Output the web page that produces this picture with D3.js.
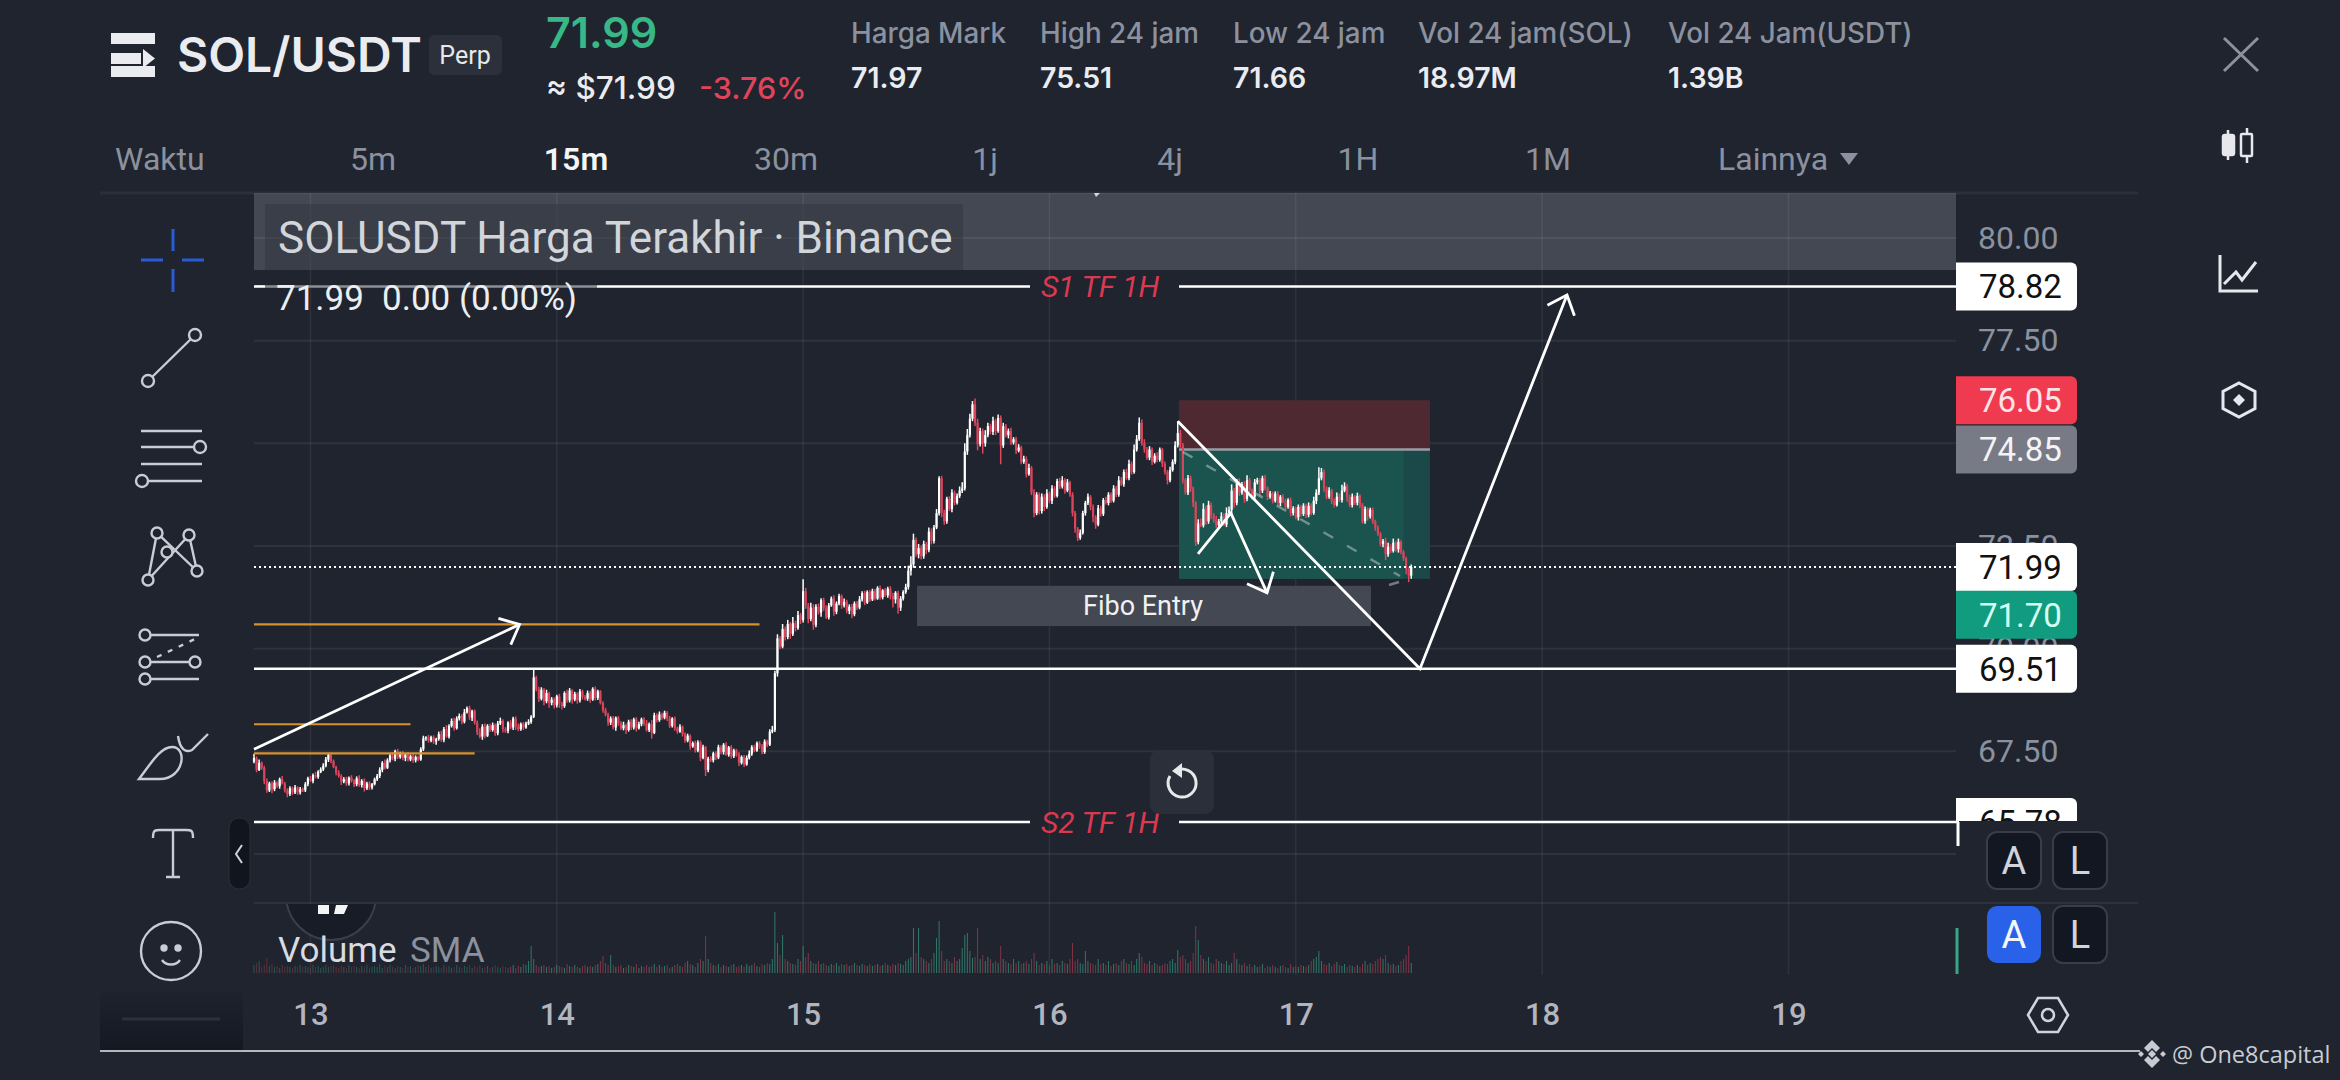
<!DOCTYPE html>
<html>
<head>
<meta charset="utf-8">
<script src="https://d3js.org/d3.v7.min.js"></script>
<style>
  html, body { margin: 0; padding: 0; background: #1f242f; overflow: hidden; }
  text { font-family: Roboto, sans-serif; }
  .hd { font-family: Inter, sans-serif; }
</style>
</head>
<body>
<script>
// 15m closes
var closes = [
 67.34,67.05,67.22,67.10,66.78,66.55,66.72,66.58,66.74,66.65,
 66.82,66.72,66.55,66.46,66.60,66.50,66.62,66.50,66.58,66.55,
 66.70,66.84,66.78,66.92,66.88,67.00,67.06,67.15,67.30,67.42,
 67.26,67.12,66.98,66.90,66.76,66.82,66.72,66.86,66.78,66.70,
 66.84,66.68,66.78,66.60,66.72,66.62,66.70,66.82,66.90,67.05,
 67.22,67.10,67.28,67.40,67.32,67.50,67.36,67.44,67.34,67.42,
 67.30,67.38,67.28,67.36,67.30,67.55,67.82,67.84,67.76,67.84,
 67.74,67.80,67.92,67.78,68.04,67.86,68.12,68.24,68.06,68.30,
 68.36,68.22,68.45,68.55,68.32,68.48,68.20,67.96,67.86,68.10,
 67.88,68.12,68.02,68.14,67.94,68.18,68.24,68.04,68.00,68.20,
 68.08,68.30,68.10,68.04,68.16,68.08,68.18,68.22,68.34,69.30,
 69.02,68.78,69.00,68.72,68.92,68.68,68.76,68.62,68.84,68.66,
 68.60,68.92,68.74,68.98,68.76,68.90,68.74,68.96,68.82,68.78,
 68.92,68.76,69.02,68.80,68.96,68.68,68.50,68.40,68.20,68.30,
 68.08,68.32,68.18,68.06,68.14,68.02,68.22,68.08,68.28,68.06,
 68.16,68.28,68.18,68.02,68.16,67.95,68.38,68.26,68.40,68.32,
 68.44,68.30,68.12,68.30,68.06,67.98,68.10,67.92,67.76,67.88,
 67.62,67.70,67.52,67.72,67.34,67.60,67.05,67.32,67.28,67.45,
 67.35,67.60,67.48,67.66,67.42,67.60,67.38,67.52,67.42,67.22,
 67.36,67.18,67.34,67.44,67.60,67.52,67.70,67.62,67.48,67.74,
 67.66,67.98,68.02,69.40,70.25,70.05,70.48,70.28,70.60,70.36,
 70.62,70.50,70.82,70.70,71.40,71.05,70.72,71.00,70.58,71.02,
 70.88,71.18,70.98,70.76,71.05,71.22,70.90,71.10,71.28,71.05,
 71.14,70.92,71.02,70.84,71.10,71.00,71.20,71.35,71.12,71.38,
 71.20,71.40,71.22,71.48,71.25,71.42,71.30,71.46,71.28,71.20,
 71.36,71.00,71.22,71.38,71.50,71.90,72.05,72.65,72.30,72.45,
 72.25,72.55,72.40,72.85,72.62,72.95,73.30,74.15,73.30,73.10,
 73.65,73.40,73.80,73.55,73.72,73.85,73.90,74.80,75.20,75.60,
 75.95,75.50,74.98,75.30,75.00,75.20,75.42,75.28,75.55,75.30,
 75.62,74.95,75.42,75.20,75.30,75.02,75.10,74.82,74.90,74.55,
 74.62,74.25,74.40,73.80,73.30,73.75,73.35,73.70,73.45,73.78,
 73.60,73.90,73.72,74.08,73.95,74.10,73.85,74.05,73.75,73.30,
 72.92,72.70,72.82,73.30,73.55,73.70,73.45,73.20,73.02,73.42,
 73.28,73.62,73.55,73.75,73.60,73.90,73.75,74.10,74.00,74.30,
 74.15,74.50,74.30,74.85,75.10,75.50,75.00,74.85,74.65,74.85,
 74.55,74.70,74.60,74.85,74.50,74.30,74.10,74.35,74.55,74.95,
 75.25,74.95,74.10,73.80,74.15,73.90,73.55,72.60,73.05,73.00,
 73.40,73.10,73.50,73.25,73.15,73.00,73.10,73.22,73.02,73.30,
 73.38,73.85,73.55,74.05,73.80,74.00,73.65,74.10,73.85,73.70,
 74.05,74.10,73.85,74.15,73.90,73.70,73.78,73.60,73.78,73.55,
 73.70,73.60,73.45,73.62,73.30,73.42,73.20,73.45,73.28,73.48,
 73.26,73.48,73.30,73.60,73.80,74.15,74.30,73.90,73.70,73.85,
 73.60,73.50,73.70,73.62,73.85,73.95,73.70,73.50,73.70,73.55,
 73.72,73.50,73.10,73.40,73.22,73.38,73.10,72.95,72.80,72.55,
 72.62,72.30,72.48,72.38,72.58,72.42,72.60,72.35,72.20,71.95,71.78,71.99
];
// wick lengths above and below the body, in cents
var upperWick = [
 10,4,8,3,5,6,4,5,6,3,4,8,4,5,5,4,6,3,5,4,
 5,4,6,4,8,4,5,6,6,4,2,4,3,6,4,5,6,3,6,4,
 5,8,4,6,4,5,3,4,5,6,4,8,5,4,8,4,6,5,7,4,
 6,4,5,4,3,5,6,3,6,4,5,3,6,8,5,10,4,6,8,5,
 6,5,8,4,6,3,4,5,10,6,8,4,5,6,4,6,8,4,5,3,
 6,4,5,8,4,5,4,6,4,21,4,5,6,4,8,3,6,5,4,6,
 5,4,8,6,3,5,4,6,4,5,6,5,4,6,4,3,4,6,4,5,
 6,3,4,5,8,4,5,6,4,5,6,4,5,8,4,10,6,5,7,4,
 5,4,6,3,5,4,6,3,4,5,3,4,6,5,4,6,3,5,6,4,
 5,6,5,4,6,3,5,4,4,6,4,5,6,8,5,6,4,5,6,5,
 4,6,10,6,10,5,12,6,10,5,15,6,10,5,29,8,6,12,8,6,
 8,5,6,8,6,5,8,5,6,4,8,5,6,7,5,6,8,5,6,4,
 5,6,5,4,6,3,6,5,6,8,4,5,6,4,8,12,20,15,6,10,
 6,8,5,10,8,6,10,5,6,8,5,6,8,5,6,10,15,20,15,12,
 8,14,10,8,6,12,8,6,10,5,8,6,8,5,6,8,5,6,8,4,
 8,6,10,5,8,6,5,8,6,10,5,8,6,6,8,10,5,8,4,6,
 5,4,8,6,5,8,4,6,5,8,6,5,8,6,5,8,6,10,8,6,
 8,10,6,12,10,13,8,10,6,8,5,6,8,5,4,6,5,8,6,10,
 29,8,6,5,8,6,5,4,10,12,
 14,8,10,6,5,8,6,10,8,14,8,15,6,8,10,6,8,12,6,5,
 8,6,5,6,8,5,6,4,5,6,4,6,5,4,6,5,4,6,5,6,
 5,8,6,10,8,27,10,6,5,8,4,6,10,8,14,10,6,5,8,4,
 8,4,5,6,4,5,6,4,5,4,5,8,10,6,10,5,8,4,5,4,3,6
];
var lowerWick = [
 4,6,3,5,8,6,4,10,5,4,6,3,5,8,5,6,4,6,5,4,
 4,5,3,6,4,5,3,4,4,6,5,3,6,4,8,4,6,5,4,7,
 5,4,6,8,4,6,5,3,4,5,6,4,3,5,4,6,5,4,6,8,
 5,4,6,5,4,3,4,6,5,4,6,8,4,5,6,3,5,4,6,3,
 5,6,4,3,6,8,5,6,4,8,6,3,5,4,6,5,4,8,5,6,
 4,6,8,5,4,6,3,4,5,3,6,8,4,10,5,12,6,8,5,10,
 8,4,6,5,10,4,8,5,6,4,5,8,3,6,5,4,6,5,8,6,
 5,8,6,4,5,10,4,6,5,8,3,5,6,4,5,14,3,6,4,5,
 4,6,5,4,6,5,3,6,5,4,8,3,5,4,8,3,15,6,4,5,
 6,4,5,6,3,5,6,4,5,8,4,6,3,4,5,4,3,6,5,4,
 6,3,4,5,8,6,4,8,5,12,5,8,4,10,6,8,10,5,12,6,
 5,10,6,4,5,3,10,6,4,8,5,6,8,10,5,6,4,5,6,3,
 6,4,5,3,6,5,4,6,8,20,10,15,8,5,4,6,12,8,6,10,
 8,6,10,5,8,6,4,6,10,8,6,5,8,6,4,5,6,5,8,6,
 6,8,15,6,25,8,5,6,8,10,4,46,6,5,8,6,5,8,4,6,
 5,8,4,6,10,5,8,6,10,4,6,8,5,4,6,5,8,4,5,8,
 10,8,5,4,6,5,8,12,10,4,6,5,4,6,5,4,6,5,4,6,
 4,5,6,4,5,4,6,8,5,6,8,4,6,5,8,6,10,5,4,6,
 5,6,8,5,6,8,10,10,6,4,
 5,8,6,10,8,6,5,8,4,6,5,10,12,6,8,5,10,6,5,8,
 6,5,14,6,4,8,5,6,4,6,8,5,6,4,8,6,5,8,6,5,
 8,6,5,4,8,6,5,8,6,5,8,6,4,5,6,4,12,5,6,5,
 6,8,5,6,10,5,6,8,5,6,8,14,6,5,4,6,8,5,6,14,16,8
];
// volume, in tens of thousands of SOL
var volumes = [
 8,10,12,6,8,15,7,9,6,7,5,8,6,7,6,5,7,6,8,6,
 7,6,5,8,6,7,5,6,8,6,7,8,6,5,7,6,5,8,6,7,
 6,5,7,6,8,5,6,7,6,9,5,7,6,8,6,5,7,6,5,8,
 6,7,5,6,8,7,9,6,8,5,6,7,6,5,8,6,7,5,6,8,
 6,5,7,6,8,5,7,6,8,5,6,7,5,6,8,6,5,7,6,5,
 6,8,5,7,6,9,8,12,27,14,8,6,7,8,6,7,5,6,8,7,
 6,5,9,7,6,8,6,5,7,8,6,7,6,8,9,12,17,10,8,18,
 8,6,7,8,5,6,8,7,6,9,5,7,6,8,6,7,9,6,8,6,
 7,8,5,6,8,9,7,6,10,12,9,8,6,10,14,12,37,14,10,8,
 7,9,6,8,7,6,8,9,6,7,8,6,9,7,8,10,7,6,9,8,
 10,9,14,61,30,18,38,14,12,10,9,8,14,12,27,16,20,12,10,9,
 12,9,10,8,7,9,8,10,7,9,8,9,7,8,10,8,7,9,8,7,
 9,7,8,9,7,8,10,8,7,9,8,10,9,8,12,14,16,45,20,45,
 16,14,12,10,14,20,35,52,22,12,14,12,10,16,12,14,25,38,40,22,
 15,16,45,14,18,12,16,14,10,12,10,27,14,12,10,9,14,10,12,9,
 10,12,9,14,20,12,8,10,9,12,8,14,9,10,8,12,10,9,14,30,
 12,14,10,9,22,12,10,9,8,14,9,10,8,12,7,9,10,8,12,14,
 10,9,12,8,14,20,16,10,9,12,8,10,9,7,8,10,9,12,14,10,
 23,16,18,14,10,12,20,47,33,18,
 14,12,16,10,9,14,12,10,9,12,8,10,20,14,9,8,10,7,9,6,
 8,6,7,9,5,7,6,8,6,5,7,8,6,5,9,6,7,6,8,7,
 6,8,12,14,16,22,12,9,8,10,7,9,11,8,7,9,6,8,7,6,
 8,6,9,12,8,10,9,12,14,16,14,18,10,8,9,7,8,12,14,18,27,10
];

var priceTicks = [80, 77.5, 75, 72.5, 70, 67.5, 65];
var dayLabels = ["13", "14", "15", "16", "17", "18", "19"];
var dayBars = [22, 118, 214, 310, 406, 502, 598];

var statLabels = ["Harga Mark", "High 24 jam", "Low 24 jam", "Vol 24 jam(SOL)", "Vol 24 Jam(USDT)"];
var statValues = ["71.97", "75.51", "71.66", "18.97M", "1.39B"];
var tabNames = ["Waktu", "5m", "15m", "30m", "1j", "4j", "1H", "1M", "Lainnya"];

// drawings on the chart, as [bar, price]
var resistanceBand = [80.98, 79.22];
var s1Level = 78.82, s2Level = 65.78, midLevel = 69.51, lastPrice = 71.99;
var slPrice = 76.05, entryPrice = 74.85, tpPrice = 71.70;
var positionBars = [360.5, 458.3, 448];
var fiboBars = [258.4, 435.3], fiboPrices = [71.53, 70.55];
var orangeLevels = [[70.59, 197], [68.16, 61], [67.45, 86]];
var riseArrow = [[0, 67.55], [103.5, 70.59]];
var zigLine = [[367.9, 72.31], [380.7, 73.30], [394.8, 71.36]];
var bigMove = [[360, 75.54], [454.4, 69.51], [511.7, 78.61]];
var dashLine = [[362, 74.79], [446.6, 71.77]];

// plain helpers
var W = 2340, H = 1080;
var svg = d3.select("body").append("svg").attr("width", W).attr("height", H)
  .style("display", "block");

var plotL = 254, plotR = 1956, plotT = 193, plotB = 903;
var x = d3.scaleLinear().domain([0, 663.3]).range([plotL, plotR]);
var y = d3.scaleLinear().domain([80, 65]).range([238, 854]);
var v = d3.scaleLinear().domain([0, 61]).range([973, 912]);

var opens = closes.map(function (c, i) { return i ? closes[i - 1] : 67.25; });
var bars = closes.map(function (c, i) {
  var top = Math.max(c, opens[i]), bot = Math.min(c, opens[i]);
  return { i: i, up: c >= opens[i], top: top, bot: bot,
    high: top + upperWick[i] / 100, low: bot - lowerWick[i] / 100, vol: volumes[i] };
});

var grey = "#8b919e", lightTxt = "#eaecef", redTxt = "#e0445a";

// header
var head = svg.append("g").attr("class", "head");
head.selectAll("rect.m").data([[111, 33, 44, 11], [111, 53, 30, 11], [111, 66, 44, 11]]).enter()
  .append("rect").attr("x", function (d) { return d[0]; }).attr("y", function (d) { return d[1]; })
  .attr("width", function (d) { return d[2]; }).attr("height", function (d) { return d[3]; }).attr("fill", "#eaecef");
head.append("path").attr("d", "M143 49 L155 58.5 L143 68 Z").attr("fill", "#eaecef");

function txt(parent, s, px, py, size, fill, opts) {
  opts = opts || {};
  var t = parent.append("text").attr("x", px).attr("y", py).text(s)
    .attr("font-size", size).attr("fill", fill)
    .attr("text-anchor", opts.anchor || "start")
    .attr("font-weight", opts.weight || 400);
  if (opts.cls) t.attr("class", opts.cls);
  if (opts.italic) t.attr("font-style", "italic");
  if (opts.family) t.style("font-family", opts.family);
  return t;
}
txt(head, "SOL/USDT", 177, 72, 48, "#eaecef", { weight: 600, cls: "hd" });
head.append("rect").attr("x", 429).attr("y", 35).attr("width", 73).attr("height", 40).attr("rx", 5).attr("fill", "#2b303b");
txt(head, "Perp", 465, 64, 25, "#e6e8ea", { anchor: "middle" });
txt(head, "71.99", 546, 48, 43, "#37b886", { weight: 600, cls: "hd" });
txt(head, "\u2248 $71.99", 546, 99, 31.5, lightTxt, { weight: 500, cls: "hd" });
txt(head, "-3.76%", 699, 99, 30.5, redTxt, { weight: 500, cls: "hd" });
var statX = [851, 1040, 1233, 1418, 1668];
statLabels.forEach(function (s, i) {
  txt(head, s, statX[i], 43, 27.8, grey, { weight: 500, cls: "hd" });
  txt(head, statValues[i], statX[i], 88, 28.5, lightTxt, { weight: 600, cls: "hd" });
});
var tabX = [115, 373, 576, 786, 985, 1170, 1358, 1548, 1718];
tabNames.forEach(function (s, i) {
  var first = i === 0, last = i === tabNames.length - 1;
  txt(head, s, tabX[i], 170, 32, i === 2 ? "#f4f5f6" : grey,
    { anchor: first || last ? "start" : "middle", weight: i === 2 ? 600 : 400 });
});
head.append("path").attr("d", "M1840 153 L1858 153 L1849 165 Z").attr("fill", grey);

// dividers
svg.append("line").attr("x1", 100).attr("x2", 2138).attr("y1", plotT).attr("y2", plotT)
  .attr("stroke", "#2a2f3a").attr("stroke-width", 3);
svg.append("line").attr("x1", plotL).attr("x2", 2138).attr("y1", plotB).attr("y2", plotB)
  .attr("stroke", "#2c313c").attr("stroke-width", 2);

// the band and the grid
var gridC = "rgba(255,255,255,0.065)";
svg.append("rect").attr("x", plotL).attr("width", plotR - plotL)
  .attr("y", plotT).attr("height", y(resistanceBand[1]) - plotT)
  .attr("fill", "rgba(128,131,142,0.38)");
svg.append("g").selectAll("line").data(priceTicks).enter().append("line")
  .attr("x1", plotL).attr("x2", plotR)
  .attr("y1", function (d) { return y(d); }).attr("y2", function (d) { return y(d); })
  .attr("stroke", gridC).attr("stroke-width", 2);
svg.append("g").selectAll("line").data(dayBars).enter().append("line")
  .attr("y1", plotT).attr("y2", 975)
  .attr("x1", function (d) { return x(d); }).attr("x2", function (d) { return x(d); })
  .attr("stroke", gridC).attr("stroke-width", 1.5);

// position box
var posG = svg.append("g");
posG.append("rect").attr("x", x(positionBars[0])).attr("width", x(positionBars[1]) - x(positionBars[0]))
  .attr("y", y(slPrice)).attr("height", y(entryPrice) - y(slPrice)).attr("fill", "rgb(78,41,50)");
posG.append("rect").attr("x", x(positionBars[0])).attr("width", x(positionBars[1]) - x(positionBars[0]))
  .attr("y", y(entryPrice)).attr("height", y(tpPrice) - y(entryPrice)).attr("fill", "rgb(27,72,72)");
posG.append("rect").attr("x", x(positionBars[0])).attr("width", x(positionBars[2]) - x(positionBars[0]))
  .attr("y", y(entryPrice)).attr("height", y(tpPrice) - y(entryPrice)).attr("fill", "rgb(27,84,78)");
posG.append("line").attr("x1", x(positionBars[0])).attr("x2", x(positionBars[1]))
  .attr("y1", y(entryPrice)).attr("y2", y(entryPrice)).attr("stroke", "#9a9ca6").attr("stroke-width", 2.5);

// fibo box
svg.append("rect").attr("x", x(fiboBars[0])).attr("width", x(fiboBars[1]) - x(fiboBars[0]))
  .attr("y", y(fiboPrices[0])).attr("height", y(fiboPrices[1]) - y(fiboPrices[0])).attr("fill", "#444852");
txt(svg, "Fibo Entry", 1143, 615, 27, "#f1f1f1", { anchor: "middle" });

// volume
svg.append("g").selectAll("rect").data(bars).enter().append("rect")
  .attr("x", function (d) { return x(d.i) - 0.5; })
  .attr("width", 1)
  .attr("y", function (d) { return v(d.vol); })
  .attr("height", function (d) { return v(0) - v(d.vol); })
  .attr("fill", function (d) { return d.up ? "#3aa687" : "#b83d52"; })
  .attr("opacity", function (d) { return d.i < 100 ? 0.4 : 0.65; });

// candles
var candleG = svg.append("g");
candleG.selectAll("line").data(bars).enter().append("line")
  .attr("x1", function (d) { return x(d.i); }).attr("x2", function (d) { return x(d.i); })
  .attr("y1", function (d) { return y(d.high); }).attr("y2", function (d) { return y(d.low); })
  .attr("stroke", function (d) { return d.up ? "#ffffff" : "#e0465c"; })
  .attr("stroke-width", 1.5);
candleG.selectAll("rect").data(bars).enter().append("rect")
  .attr("x", function (d) { return x(d.i) - 1.1; }).attr("width", 2.2)
  .attr("y", function (d) { return y(d.top); })
  .attr("height", function (d) { return Math.max(1, y(d.bot) - y(d.top)); })
  .attr("fill", function (d) { return d.up ? "#ffffff" : "#dc4459"; });

// orange levels
svg.append("g").selectAll("line").data(orangeLevels).enter().append("line")
  .attr("x1", plotL).attr("x2", function (d) { return x(d[1]); })
  .attr("y1", function (d) { return y(d[0]); }).attr("y2", function (d) { return y(d[0]); })
  .attr("stroke", "#d8922f").attr("stroke-width", 2.2);

// white levels
var lvl = svg.append("g").attr("stroke", "#fff").attr("stroke-width", 2.6);
lvl.append("line").attr("x1", plotL).attr("x2", 265).attr("y1", y(s1Level)).attr("y2", y(s1Level));
lvl.append("line").attr("x1", 597).attr("x2", 1030).attr("y1", y(s1Level)).attr("y2", y(s1Level));
lvl.append("line").attr("x1", 1179).attr("x2", plotR).attr("y1", y(s1Level)).attr("y2", y(s1Level));
lvl.append("line").attr("x1", 265).attr("x2", 597).attr("y1", y(s1Level)).attr("y2", y(s1Level)).attr("stroke", "#8d8f96");
lvl.append("line").attr("x1", plotL).attr("x2", plotR).attr("y1", y(midLevel)).attr("y2", y(midLevel));
lvl.append("line").attr("x1", plotL).attr("x2", 1030).attr("y1", y(s2Level)).attr("y2", y(s2Level));
lvl.append("line").attr("x1", 1179).attr("x2", 1959).attr("y1", y(s2Level)).attr("y2", y(s2Level));
lvl.append("line").attr("x1", 1958).attr("x2", 1958).attr("y1", y(s2Level)).attr("y2", 846).attr("stroke-width", 3);
svg.append("line").attr("x1", plotL).attr("x2", plotR).attr("y1", y(lastPrice)).attr("y2", y(lastPrice))
  .attr("stroke", "#fff").attr("stroke-width", 2).attr("stroke-dasharray", "2 3");
txt(svg, "S1 TF 1H", 1041, 297, 30, "#d93a50", { italic: true });
txt(svg, "S2 TF 1H", 1041, 833, 30, "#d93a50", { italic: true });
svg.append("path").attr("d", "M1094 193 L1100 193 L1096 197").attr("fill", "#d6d6da");

// dashed guide
svg.append("line")
  .attr("x1", x(dashLine[0][0])).attr("y1", y(dashLine[0][1]))
  .attr("x2", x(dashLine[1][0])).attr("y2", y(dashLine[1][1]))
  .attr("stroke", "rgba(200,205,205,0.5)").attr("stroke-width", 2.4).attr("stroke-dasharray", "11 16");
svg.append("line").attr("x1", 1389).attr("y1", 585).attr("x2", 1399).attr("y2", 582)
  .attr("stroke", "rgba(200,205,205,0.5)").attr("stroke-width", 2.4);

// arrows and polylines
var drawG = svg.append("g").attr("fill", "none").attr("stroke", "#fff").attr("stroke-width", 2.8)
  .attr("stroke-linejoin", "miter");
var lineGen = d3.line().x(function (d) { return x(d[0]); }).y(function (d) { return y(d[1]); });
function arrowHead(pts, len) {
  var a = pts[pts.length - 2], b = pts[pts.length - 1];
  var bx = x(b[0]), by = y(b[1]);
  var ang = Math.atan2(by - y(a[1]), bx - x(a[0]));
  var spread = 0.72;
  drawG.append("path").attr("d",
    "M" + (bx - len * Math.cos(ang - spread)) + " " + (by - len * Math.sin(ang - spread)) +
    " L" + bx + " " + by +
    " L" + (bx - len * Math.cos(ang + spread)) + " " + (by - len * Math.sin(ang + spread)));
}
[riseArrow, zigLine, bigMove].forEach(function (pts) {
  drawG.append("path").attr("d", lineGen(pts));
  arrowHead(pts, 22);
});

// legend over the band
var leg = svg.append("g");
leg.append("rect").attr("x", 265).attr("y", 204).attr("width", 698).attr("height", 66).attr("fill", "rgba(50,54,64,0.55)");
txt(leg, "SOLUSDT Harga Terakhir \u00b7 Binance", 278, 253, 44, "#d2d5da");
txt(leg, "71.99", 276, 310, 35, "#eceef0");
txt(leg, "0.00 (0.00%)", 382, 310, 35, "#eceef0");

// price axis
var yAxis = d3.axisRight(y).tickValues(priceTicks.slice(0, 6)).tickSize(0).tickPadding(0)
  .tickFormat(function (d) { return d.toFixed(2); });
var yG = svg.append("g").attr("transform", "translate(1978,0)").call(yAxis);
yG.select(".domain").remove();
yG.selectAll("text").attr("font-size", 32).attr("fill", grey).style("font-family", "Roboto, sans-serif");

// price labels on the axis
function priceLabel(val, fill, ink, shift, clipTo) {
  var c = y(val) + shift, g = svg.append("g");
  if (clipTo) {
    var id = "clip" + Math.round(val);
    svg.append("clipPath").attr("id", id).append("rect")
      .attr("x", 1900).attr("y", 700).attr("width", 300).attr("height", clipTo - 700);
    g.attr("clip-path", "url(#" + id + ")");
  }
  g.append("path").attr("fill", fill).attr("d",
    "M1956 " + (c - 24) + " H2071 a6 6 0 0 1 6 6 V" + (c + 18) + " a6 6 0 0 1 -6 6 H1956 Z");
  txt(g, val.toFixed(2), 1979, c + 12, 33, ink);
}
priceLabel(s1Level, "#fff", "#111", 0);
priceLabel(slPrice, "#ef3a4f", "#fde3e6", 0);
priceLabel(entryPrice, "#787b86", "#f4f4f6", 0);
priceLabel(lastPrice, "#fff", "#111", 0);
priceLabel(tpPrice, "#119c80", "#d6fff4", 36);
priceLabel(midLevel, "#fff", "#111", 0);
priceLabel(s2Level, "#fff", "#111", 0, 821);
svg.append("rect").attr("x", 1955.5).attr("y", 928).attr("width", 3).attr("height", 46).attr("fill", "#3aa687");

// time axis
var xAxis = d3.axisBottom(x).tickValues(dayBars).tickSize(0).tickPadding(0)
  .tickFormat(function (d, i) { return dayLabels[i]; });
var xG = svg.append("g").attr("transform", "translate(0,1003)").call(xAxis);
xG.select(".domain").remove();
xG.selectAll("text").attr("font-size", 31).attr("font-weight", 500).attr("fill", "#b2b5be")
  .style("font-family", "Roboto, sans-serif");

// volume legend and the logo half under it
svg.append("clipPath").attr("id", "logoClip").append("rect").attr("x", 260).attr("y", 904).attr("width", 150).attr("height", 60);
var logo = svg.append("g").attr("clip-path", "url(#logoClip)");
logo.append("circle").attr("cx", 331).attr("cy", 895).attr("r", 45).attr("fill", "#181c26").attr("stroke", "#3a3f4a").attr("stroke-width", 2);
logo.append("path").attr("d", "M318 905 h11 v9 h-11 Z M336 905 h12 l-4 9 h-10 Z").attr("fill", "#f4f4f4");
txt(svg, "Volume", 278, 962, 35, "#d8dbe1");
txt(svg, "SMA", 410, 962, 35, grey);

// reset button
svg.append("rect").attr("x", 1150).attr("y", 750).attr("width", 64).attr("height", 64).attr("rx", 9).attr("fill", "#2a2f3a");
svg.append("path").attr("d", "M1175 771 A14 14 0 1 1 1170 776").attr("fill", "none").attr("stroke", "#e6e8ea").attr("stroke-width", 3);
svg.append("path").attr("d", "M1182 763 L1172 771 L1182 778 Z").attr("fill", "#e6e8ea");

// A / L buttons
var btnData = [
  { t: "A", x: 1987, y: 832, on: false }, { t: "L", x: 2053, y: 832, on: false },
  { t: "A", x: 1987, y: 906, on: true }, { t: "L", x: 2053, y: 906, on: false }
];
btnData.forEach(function (b) {
  svg.append("rect").attr("x", b.x).attr("y", b.y).attr("width", 54).attr("height", 57).attr("rx", 10)
    .attr("fill", b.on ? "#2962e8" : "#131722").attr("stroke", b.on ? "none" : "#383d48").attr("stroke-width", 2);
  txt(svg, b.t, b.x + 27, b.y + 42, 38, b.on ? "#f4f6fb" : "#d1d4dc", { anchor: "middle" });
});

// settings hexagon
var iconC = "#d1d4dc";
svg.append("path").attr("d", "M2028 1015 L2038 998 H2058 L2068 1015 L2058 1032 H2038 Z").attr("fill", "none").attr("stroke", iconC).attr("stroke-width", 2.5);
svg.append("circle").attr("cx", 2048).attr("cy", 1015).attr("r", 6).attr("fill", "none").attr("stroke", iconC).attr("stroke-width", 2.5);

// right side icons
var rIcons = svg.append("g").attr("fill", "none").attr("stroke", "#e6e8ee").attr("stroke-width", 2.5);
rIcons.append("path").attr("d", "M2224 38 L2258 71 M2258 38 L2224 71").attr("stroke", grey).attr("stroke-width", 3);
rIcons.append("rect").attr("x", 2223).attr("y", 135).attr("width", 11).attr("height", 20).attr("rx", 2).attr("fill", "#e6e8ee");
rIcons.append("path").attr("d", "M2228 130 V160 M2247 128 V163");
rIcons.append("rect").attr("x", 2241).attr("y", 134).attr("width", 11).attr("height", 22).attr("rx", 1).attr("fill", "#1f242f");
rIcons.append("path").attr("d", "M2220 255 V291 H2258 M2224 284 L2236 272 L2242 280 L2256 262").attr("stroke-width", 3);
rIcons.append("path").attr("d", "M2239 383 L2255 391.5 V408.5 L2239 417 L2223 408.5 V391.5 Z").attr("stroke-width", 3);
rIcons.append("path").attr("d", "M2239 394 L2245 400 L2239 406 L2233 400 Z").attr("fill", "#e6e8ee").attr("stroke", "none");

// left drawing tools
var tools = svg.append("g").attr("fill", "none").attr("stroke", "#c8ccd4").attr("stroke-width", 2.4);
svg.append("path").attr("d", "M141 260 H163 M182 260 H204 M173 229 V251 M173 269 V292")
  .attr("fill", "none").attr("stroke", "#2a5bd7").attr("stroke-width", 3);
function dots(list, r) {
  list.forEach(function (p) { tools.append("circle").attr("cx", p[0]).attr("cy", p[1]).attr("r", r).attr("fill", "#1f242f"); });
}
tools.append("path").attr("d", "M148 381 L195 335");
dots([[148, 381], [195, 335]], 6);
tools.append("path").attr("d", "M141 431 H202 M141 447 H194 M141 464 H202 M148 481 H202");
dots([[200, 447], [142, 481]], 6);
tools.append("path").attr("d", "M148 580 L157 533 L197 571 L189 535 L148 580");
dots([[148, 580], [157, 533], [167, 552], [189, 535], [197, 571]], 5.5);
tools.append("path").attr("d", "M150 635 H199 M150 662 H190 M150 679 H199");
tools.append("path").attr("d", "M157 657 L195 639").attr("stroke-dasharray", "5 7");
dots([[145, 635], [145, 662], [195, 662], [145, 679]], 5.5);
tools.append("path").attr("d", "M139 779 C150 765 160 747 172 747 C188 747 184 779 160 779 Z");
tools.append("path").attr("d", "M178 736 C180 750 186 753 192 750 L208 734");
tools.append("path").attr("d", "M153 838 C153 830 155 830 160 830 H186 C191 830 193 830 193 838 M173 830 V877 M166 877 H180");
tools.append("ellipse").attr("cx", 171).attr("cy", 951).attr("rx", 30).attr("ry", 29);
tools.append("circle").attr("cx", 164).attr("cy", 948).attr("r", 2.5).attr("fill", "#c8ccd4");
tools.append("circle").attr("cx", 178).attr("cy", 948).attr("r", 2.5).attr("fill", "#c8ccd4");
tools.append("path").attr("d", "M162 960 C166 966 176 966 180 960");

// collapse pill
svg.append("rect").attr("x", 229).attr("y", 818).attr("width", 21).attr("height", 71).attr("rx", 10).attr("fill", "#12151e").attr("stroke", "#2a2f3a");
svg.append("path").attr("d", "M242 845 L236 854 L242 863").attr("fill", "none").attr("stroke", "#d1d4dc").attr("stroke-width", 2);

// bottom left box and the bottom rule
var grad = svg.append("defs").append("linearGradient").attr("id", "boxG").attr("x1", 0).attr("x2", 0).attr("y1", 0).attr("y2", 1);
grad.append("stop").attr("offset", "0").attr("stop-color", "#1d222c");
grad.append("stop").attr("offset", "1").attr("stop-color", "#141823");
svg.append("rect").attr("x", 100).attr("y", 993).attr("width", 143).attr("height", 58).attr("fill", "url(#boxG)");
svg.append("line").attr("x1", 122).attr("x2", 220).attr("y1", 1019).attr("y2", 1019).attr("stroke", "#2c313b").attr("stroke-width", 3);
svg.append("line").attr("x1", 100).attr("x2", 2140).attr("y1", 1051).attr("y2", 1051).attr("stroke", "#e8eaee").attr("stroke-width", 1.6);

// watermark
var wm = svg.append("g").attr("fill", "#c8ccd2");
wm.append("path").attr("d", "M2152 1040 L2160 1048 L2156 1052 L2152 1048 L2148 1052 L2144 1048 Z M2152 1068 L2144 1060 L2148 1056 L2152 1060 L2156 1056 L2160 1060 Z M2152 1050 L2156 1054 L2152 1058 L2148 1054 Z M2141 1051 L2144 1054 L2141 1057 L2138 1054 Z M2163 1051 L2166 1054 L2163 1057 L2160 1054 Z");
txt(svg, "@ One8capital", 2172, 1063, 23.5, "#c8ccd2", { family: "'Open Sans', sans-serif" });
</script>
</body>
</html>
